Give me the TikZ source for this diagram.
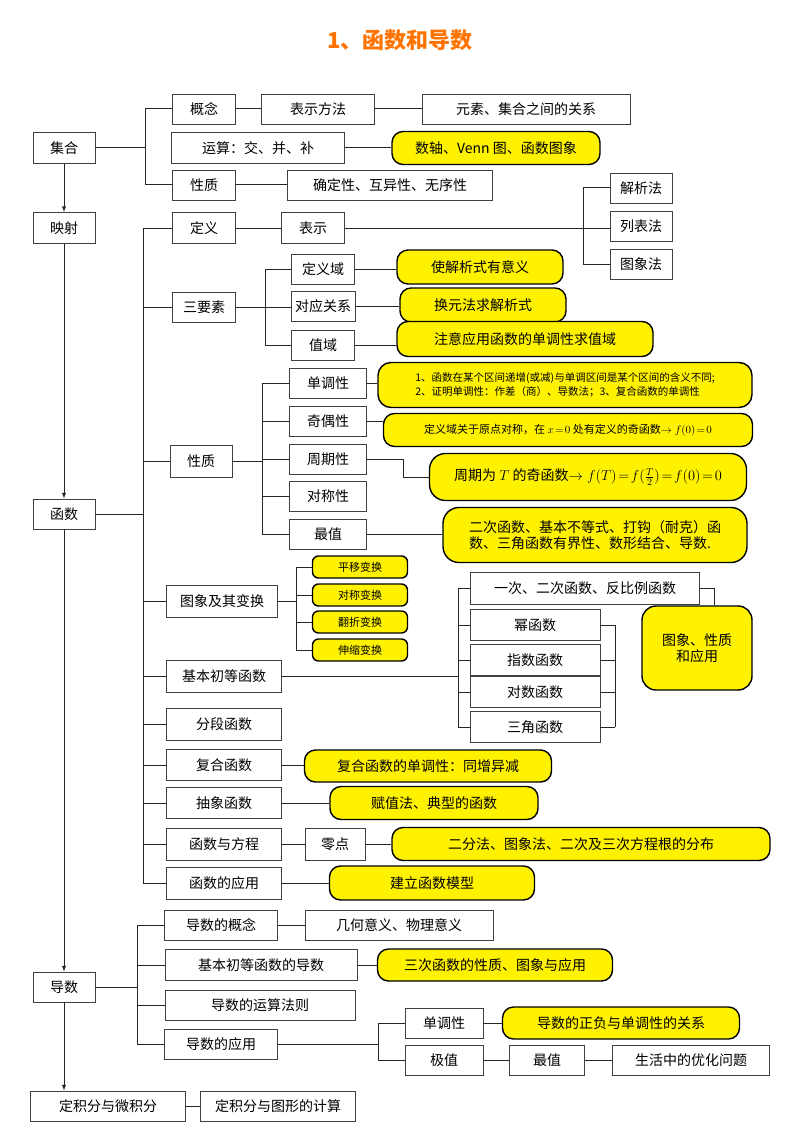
\documentclass[tikz,border=0pt]{standalone}
\usepackage{fontspec}
\setmainfont{Noto Sans CJK SC}
\begin{document}
\begin{tikzpicture}[x=1pt,y=-1pt,
 bx/.style={draw=black!75,line width=0.9pt,fill=white,inner sep=1pt,font=\fontsize{14}{16}\selectfont},
 yb/.style={draw=black,line width=1.4pt,fill=yellow,rounded corners=11pt,inner sep=1pt,font=\fontsize{14}{16}\selectfont},
 ln/.style={line width=1pt,black!85},
 ar/.style={line width=1pt,black!85,-latex}]
\useasboundingbox (0,0) rectangle (800,1134);
\node[font=\fontsize{22}{24}\selectfont\bfseries,text=orange!90!red] (title) at (400,40) {1、函数和导数};
% left column
\node[bx,minimum width=62,minimum height=31] (jh) at (64,148) {集合};
\node[bx,minimum width=62,minimum height=31] (ys) at (64,228) {映射};
\node[bx,minimum width=62,minimum height=30] (hs) at (64,514) {函数};
\node[bx,minimum width=62,minimum height=30] (ds) at (64,987) {导数};
\node[bx,minimum width=155,minimum height=30] (djf) at (108,1106) {定积分与微积分};
\node[bx,minimum width=155,minimum height=30] (djt) at (278,1106) {定积分与图形的计算};
\draw[ar] (jh) -- (ys);
\draw[ar] (ys) -- (hs);
\draw[ar] (hs) -- (ds);
\draw[ar] (ds.south) -- (ds.south |- djf.north);
\draw[ln] (djf) -- (djt);
% 集合
\node[bx,minimum width=63,minimum height=30] (gn) at (204,109) {概念};
\node[bx,minimum width=113,minimum height=30] (bsff) at (318,109) {表示方法};
\node[bx,minimum width=208,minimum height=30] (ys2) at (526,109) {元素、集合之间的关系};
\node[bx,minimum width=173,minimum height=31] (ys3) at (258,148) {运算：交、并、补};
\node[yb,minimum width=208,minimum height=33] (venn) at (496,148) {数轴、Venn 图、函数图象};
\node[bx,minimum width=63,minimum height=30] (xz1) at (204,185) {性质};
\node[bx,minimum width=205,minimum height=30] (qdx) at (390,185) {确定性、互异性、无序性};
\coordinate (b1) at (145,0);
\draw[ln] (jh.east) -- (jh.east -| b1);
\draw[ln] (b1 |- gn) -- (b1 |- xz1);
\draw[ln] (b1 |- gn) -- (gn.west);
\draw[ln] (b1 |- xz1) -- (xz1.west);
\draw[ln] (gn) -- (bsff); \draw[ln] (bsff) -- (ys2);
\draw[ln] (ys3) -- (venn); \draw[ln] (xz1) -- (qdx);
% 函数
\coordinate (b2) at (143,0);
\node[bx,minimum width=63,minimum height=31] (dy) at (204,228) {定义};
\node[bx,minimum width=63,minimum height=31] (bs) at (313,228) {表示};
\node[bx,minimum width=62,minimum height=30] (jxf) at (641,188) {解析法};
\node[bx,minimum width=62,minimum height=30] (lbf) at (641,226) {列表法};
\node[bx,minimum width=62,minimum height=30] (txf) at (641,264) {图象法};
\coordinate (b3) at (583,0);
\draw[ln] (dy) -- (bs);
\draw[ln] (bs.east) -- (lbf.west |- bs.east);
\draw[ln] (b3 |- jxf) -- (b3 |- txf);
\draw[ln] (b3 |- jxf) -- (jxf.west);
\draw[ln] (b3 |- txf) -- (txf.west);
\node[bx,minimum width=63,minimum height=30] (sys) at (204,307) {三要素};
\node[bx,minimum width=63,minimum height=30] (dyy) at (323,269) {定义域};
\node[bx,minimum width=64,minimum height=30] (dygx) at (323,306) {对应关系};
\node[bx,minimum width=63,minimum height=30] (zy) at (323,345) {值域};
\node[yb,minimum width=166,minimum height=34] (y1) at (480,267) {使解析式有意义};
\node[yb,minimum width=166,minimum height=34] (y2) at (483,305) {换元法求解析式};
\node[yb,minimum width=256,minimum height=35] (y3) at (525,339) {注意应用函数的单调性求值域};
\coordinate (b4) at (265,0);
\draw[ln] (sys.east) -- (dygx.west |- sys.east);
\draw[ln] (b4 |- dyy) -- (b4 |- zy);
\draw[ln] (b4 |- dyy) -- (dyy.west);
\draw[ln] (b4 |- zy) -- (zy.west);
\draw[ln] (dyy.east) -- (y1.west |- dyy.east); \draw[ln] (dygx.east) -- (y2.west |- dygx.east); \draw[ln] (zy.east) -- (y3.west |- zy);
% 性质
\node[bx,minimum width=62,minimum height=32] (xz2) at (201,461) {性质};
\node[bx,minimum width=77,minimum height=30] (ddx) at (328,383) {单调性};
\node[bx,minimum width=77,minimum height=30] (jox) at (328,421) {奇偶性};
\node[bx,minimum width=77,minimum height=30] (zqx) at (328,459) {周期性};
\node[bx,minimum width=77,minimum height=30] (dcx) at (328,496) {对称性};
\node[bx,minimum width=77,minimum height=30] (zz) at (328,534) {最值};
\coordinate (b5) at (262,0);
\draw[ln] (xz2.east) -- (xz2.east -| b5);
\draw[ln] (b5 |- ddx) -- (b5 |- zz);
\foreach \n in {ddx,jox,zqx,dcx,zz} \draw[ln] (b5 |- \n) -- (\n.west);
\node[yb,minimum width=374,minimum height=45,rounded corners=13pt,align=left,font=\fontsize{10.5}{14}\selectfont] (n1) at (565,385) {1、函数在某个区间递增(或减)与单调区间是某个区间的含义不同;\\2、证明单调性：作差（商）、导数法；3、复合函数的单调性};
\node[yb,minimum width=369,minimum height=33,font=\fontsize{11}{13}\selectfont] (n2) at (568,430) {定义域关于原点对称，在 $x\!=\!0$ 处有定义的奇函数$\to f(0)\!=\!0$};
\node[yb,minimum width=317,minimum height=47,rounded corners=16pt,font=\fontsize{14}{16}\selectfont] (n3) at (588,477) {周期为 $T$ 的奇函数$\to f(T)\!=\!f(\frac{T}{2})\!=\!f(0)\!=\!0$};
\node[yb,minimum width=304,minimum height=55,rounded corners=16pt,align=left] (n4) at (595,535) {二次函数、基本不等式、打钩（耐克）函\\数、三角函数有界性、数形结合、导数.};
\coordinate (b6) at (403,0);
\draw[ln] (ddx.east) -- (n1.west |- ddx);
\draw[ln] (jox.east) -- (n2.west |- jox);
\draw[ln] (zqx.east) -- (zqx -| b6) -- (b6 |- n3) -- (n3.west);
\draw[ln] (zz.east) -- (n4.west |- zz.east);
% 图象及其变换
\node[bx,minimum width=111,minimum height=32] (txbh) at (222,601) {图象及其变换};
\foreach \n/\t/\yy in {t1/平移变换/567,t2/对称变换/595,t3/翻折变换/622,t4/伸缩变换/650}
 \node[yb,minimum width=95,minimum height=22,rounded corners=6pt,font=\fontsize{11}{12}\selectfont] (\n) at (360,\yy) {\t};
\coordinate (b7) at (296,0);
\draw[ln] (txbh.east) -- (txbh.east -| b7);
\draw[ln] (b7 |- t1) -- (b7 |- t4);
\foreach \n in {t1,t2,t3,t4} \draw[ln] (b7 |- \n) -- (\n.west);
% 基本初等函数
\node[bx,minimum width=115,minimum height=32] (jbcd) at (224,676) {基本初等函数};
\node[bx,minimum width=229,minimum height=32] (yc) at (585,588) {一次、二次函数、反比例函数};
\node[bx,minimum width=130,minimum height=31] (mhs) at (535,625) {幂函数};
\node[bx,minimum width=130,minimum height=31] (zshs) at (535,660) {指数函数};
\node[bx,minimum width=130,minimum height=31] (dshs) at (535,692) {对数函数};
\node[bx,minimum width=130,minimum height=31] (sjhs) at (535,727) {三角函数};
\node[yb,minimum width=110,minimum height=84,rounded corners=14pt,align=center,text width=90pt] (txzy) at (697,648) {图象、性质\\和应用};
\coordinate (b8) at (458,0);
\coordinate (b9) at (615,0);
\coordinate (b10) at (714,0);
\draw[ln] (jbcd.east) -- (jbcd.east -| b8);
\draw[ln] (b8 |- yc) -- (b8 |- sjhs);
\foreach \n in {yc,mhs,zshs,dshs,sjhs} \draw[ln] (b8 |- \n) -- (\n.west);
\draw[ln] (b9 |- mhs) -- (b9 |- sjhs);
\foreach \n in {mhs,zshs,dshs,sjhs} \draw[ln] (\n.east) -- (b9 |- \n);
\draw[ln] (yc.east) -- (b10 |- yc) -- (b10 |- txzy.north);
% 其他函数
\node[bx,minimum width=115,minimum height=32] (fdhs) at (224,724) {分段函数};
\node[bx,minimum width=115,minimum height=31] (fhhs) at (224,765) {复合函数};
\node[bx,minimum width=115,minimum height=31] (cxhs) at (224,803) {抽象函数};
\node[bx,minimum width=115,minimum height=32] (hsfc) at (224,844) {函数与方程};
\node[bx,minimum width=115,minimum height=32] (hsyy) at (224,883) {函数的应用};
\node[yb,minimum width=247,minimum height=32] (y4) at (428,766) {复合函数的单调性：同增异减};
\node[yb,minimum width=208,minimum height=33] (y5) at (434,803) {赋值法、典型的函数};
\node[bx,minimum width=60,minimum height=32] (ld) at (335,844) {零点};
\node[yb,minimum width=378,minimum height=33] (y6) at (581,844) {二分法、图象法、二次及三次方程根的分布};
\node[yb,minimum width=205,minimum height=34] (y7) at (432,883) {建立函数模型};
\draw[ln] (fhhs.east) -- (y4.west |- fhhs); \draw[ln] (cxhs) -- (y5);
\draw[ln] (hsfc) -- (ld); \draw[ln] (ld) -- (y6); \draw[ln] (hsyy) -- (y7);
\draw[ln] (hs.east) -- (hs.east -| b2);
\draw[ln] (b2 |- dy) -- (b2 |- hsyy);
\foreach \n in {dy,sys,xz2,txbh,jbcd,fdhs,fhhs,cxhs,hsfc,hsyy} \draw[ln] (b2 |- \n) -- (\n.west);
% 导数
\node[bx,minimum width=113,minimum height=30] (dsgn) at (221,925) {导数的概念};
\node[bx,minimum width=188,minimum height=30] (jhyy) at (399,925) {几何意义、物理意义};
\node[bx,minimum width=192,minimum height=31] (jbds) at (261,965) {基本初等函数的导数};
\node[yb,minimum width=235,minimum height=32] (y8) at (495,965) {三次函数的性质、图象与应用};
\node[bx,minimum width=190,minimum height=30] (dsys) at (260,1005) {导数的运算法则};
\node[bx,minimum width=113,minimum height=30] (dsyy) at (221,1044) {导数的应用};
\node[bx,minimum width=78,minimum height=30] (ddx2) at (444,1023) {单调性};
\node[bx,minimum width=78,minimum height=30] (jz) at (444,1060) {极值};
\node[yb,minimum width=237,minimum height=32] (y9) at (621,1023) {导数的正负与单调性的关系};
\node[bx,minimum width=75,minimum height=30] (zz2) at (547,1060) {最值};
\node[bx,minimum width=157,minimum height=30] (shyh) at (691,1060) {生活中的优化问题};
\coordinate (b11) at (137,0);
\coordinate (b12) at (378,0);
\draw[ln] (ds.east) -- (ds.east -| b11);
\draw[ln] (b11 |- dsgn) -- (b11 |- dsyy);
\foreach \n in {dsgn,jbds,dsys,dsyy} \draw[ln] (b11 |- \n) -- (\n.west);
\draw[ln] (dsgn) -- (jhyy); \draw[ln] (jbds) -- (y8);
\draw[ln] (dsyy.east) -- (dsyy.east -| b12);
\draw[ln] (b12 |- ddx2) -- (b12 |- jz);
\draw[ln] (b12 |- ddx2) -- (ddx2.west); \draw[ln] (b12 |- jz) -- (jz.west);
\draw[ln] (ddx2) -- (y9); \draw[ln] (jz) -- (zz2); \draw[ln] (zz2) -- (shyh);
\end{tikzpicture}
\end{document}
